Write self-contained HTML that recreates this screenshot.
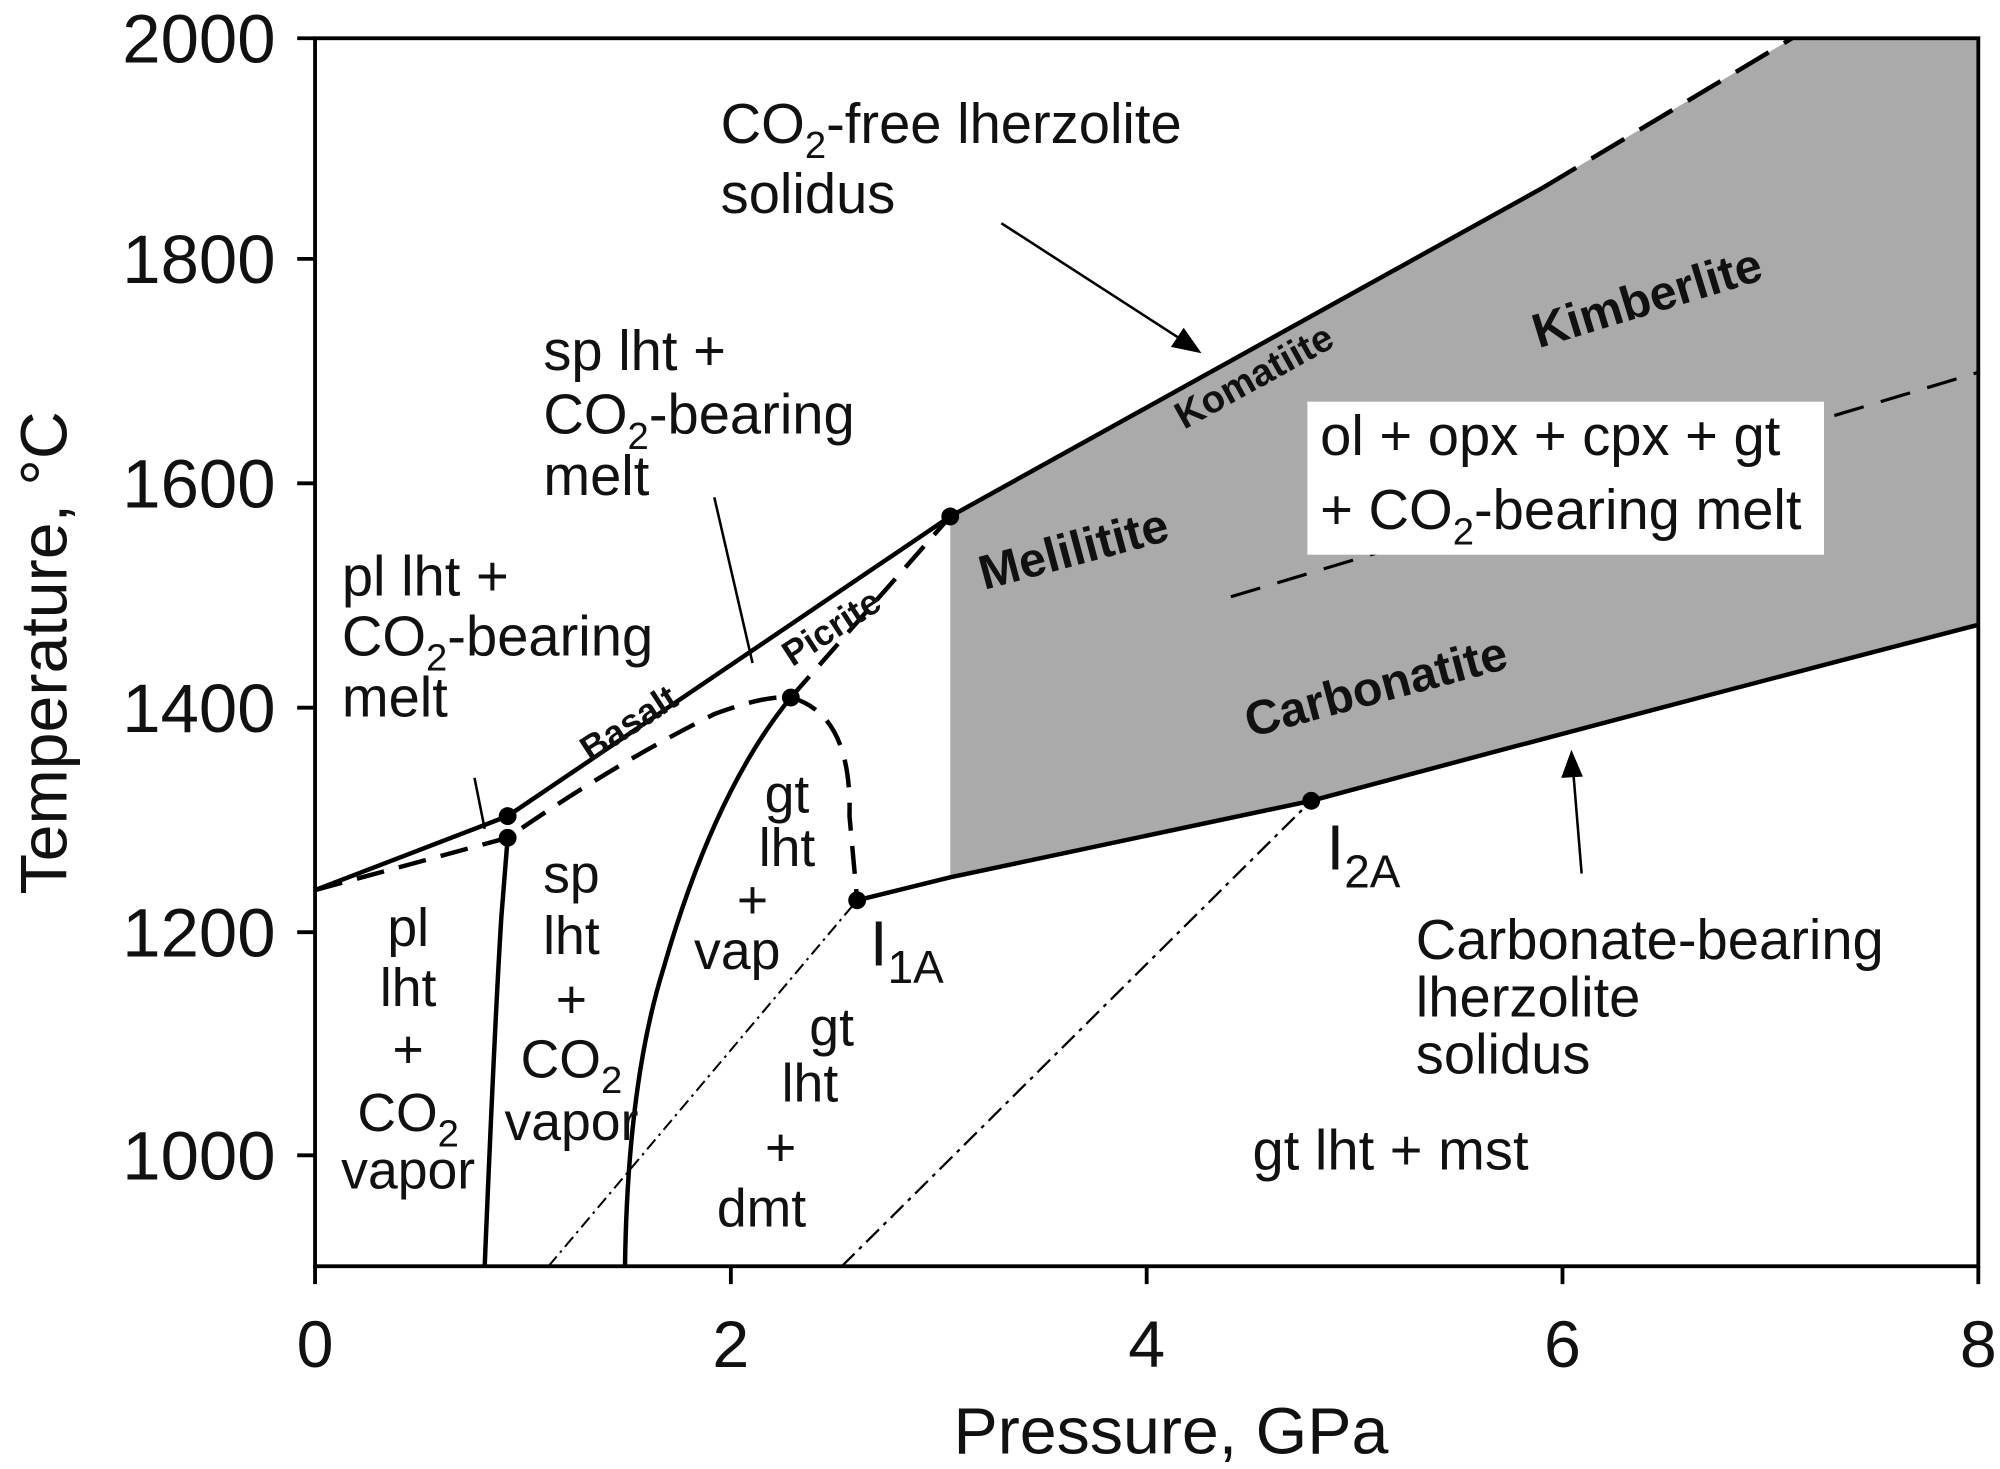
<!DOCTYPE html>
<html><head><style>html,body{margin:0;padding:0;background:#fff}svg{display:block}</style></head>
<body>
<svg width="2000" height="1469" viewBox="0 0 1568 1152" preserveAspectRatio="none" xmlns="http://www.w3.org/2000/svg" font-family="Liberation Sans, Arial, sans-serif">
<polygon points="745,405 1230,135 1405,30 1551,30 1551,490 1028,628 745,688" fill="#aaaaaa"/>
<path d="M965,468 L1551,292" stroke="#000" stroke-width="2.5" fill="none" stroke-dasharray="24,14"/>
<rect x="1025" y="315" width="405" height="120" fill="#fff"/>
<g stroke="#000" fill="none" stroke-width="3.5">
<path d="M247,698 L398,640 L745,405 L1210,147"/>
<path d="M1210,147 L1405,30" stroke-dasharray="30,14"/>
<path d="M672,706 L745,688 Q900,655 1028,628 Q1300,555 1551,490"/>
<path d="M247,698 L398,657 Q480,600 560,560 Q600,545 620,547" stroke-dasharray="22,12"/>
<path d="M620,547 L745,405" stroke-dasharray="22,12"/>
<path d="M620,547 Q668,560 666,640 L672,706" stroke-dasharray="22,12"/>
<path d="M490,993 Q492,850 520,760 Q560,620 620,547"/>
<path d="M380,993 Q388,800 393,720 L398,657"/>
</g>
<path d="M430,993 L672,706" stroke="#000" stroke-width="1.6" fill="none" stroke-dasharray="10,4,2,4"/>
<path d="M660,993 L1028,628" stroke="#000" stroke-width="1.8" fill="none" stroke-dasharray="14,5,3,5"/>
<g stroke="#000" stroke-width="2" fill="none">
<path d="M560,390 L590,520"/><path d="M372,610 L380,650"/>
<path d="M785,175 L932,270"/><path d="M1240,685 L1233,600"/>
</g>
<polygon points="942,277 918,272 928,257" fill="#000"/>
<polygon points="1232,588 1224,610 1241,609" fill="#000"/>
<g fill="#000"><circle cx="398" cy="640" r="7"/><circle cx="398" cy="657" r="7"/><circle cx="745" cy="405" r="7"/><circle cx="620" cy="547" r="7"/><circle cx="672" cy="706" r="7"/><circle cx="1028" cy="628" r="7"/></g>
<rect x="247" y="30" width="1304" height="963" fill="none" stroke="#000" stroke-width="3"/>
<g stroke="#000" stroke-width="3">
<path d="M233,30H247M233,203H247M233,379H247M233,555H247M233,731H247M233,906H247"/>
<path d="M247,993V1007M573,993V1007M899,993V1007M1225,993V1007M1551,993V1007"/>
</g>
<g font-size="54" text-anchor="end" fill="#111">
<text x="216" y="49">2000</text><text x="216" y="222">1800</text><text x="216" y="398">1600</text><text x="216" y="574">1400</text><text x="216" y="750">1200</text><text x="216" y="925">1000</text>
</g>
<g font-size="52" text-anchor="middle" fill="#111">
<text x="247" y="1072">0</text><text x="573" y="1072">2</text><text x="899" y="1072">4</text><text x="1225" y="1072">6</text><text x="1551" y="1072">8</text>
<text x="918" y="1140">Pressure, GPa</text>
<text transform="translate(52,512) rotate(-90)">Temperature, °C</text>
</g>
<g font-size="44" fill="#111">
<text x="565" y="112">CO<tspan font-size="30" dy="12">2</tspan><tspan dy="-12">-free lherzolite</tspan></text>
<text x="565" y="167">solidus</text>
<text x="426" y="290">sp lht +</text>
<text x="426" y="340">CO<tspan font-size="30" dy="12">2</tspan><tspan dy="-12">-bearing</tspan></text>
<text x="426" y="388">melt</text>
<text x="268" y="467">pl lht +</text>
<text x="268" y="514">CO<tspan font-size="30" dy="12">2</tspan><tspan dy="-12">-bearing</tspan></text>
<text x="268" y="562">melt</text>
<text x="1035" y="357">ol + opx + cpx + gt</text>
<text x="1035" y="415">+ CO<tspan font-size="30" dy="12">2</tspan><tspan dy="-12">-bearing melt</tspan></text>
<text x="1110" y="752">Carbonate-bearing</text>
<text x="1110" y="797">lherzolite</text>
<text x="1110" y="842">solidus</text>
<text x="982" y="917">gt lht + mst</text>
<text x="682" y="757" font-size="50">I<tspan font-size="36" dy="14">1A</tspan></text>
<text x="1040" y="682" font-size="50">I<tspan font-size="36" dy="14">2A</tspan></text>
</g>
<g font-size="42" fill="#111" text-anchor="middle">
<text x="320" y="742">pl</text><text x="320" y="789">lht</text><text x="320" y="837">+</text><text x="320" y="887">CO<tspan font-size="30" dy="12">2</tspan></text><text x="320" y="932">vapor</text>
<text x="448" y="700">sp</text><text x="448" y="748">lht</text><text x="448" y="798">+</text><text x="448" y="845">CO<tspan font-size="30" dy="12">2</tspan></text><text x="448" y="894">vapor</text>
<text x="617" y="637">gt</text><text x="617" y="679">lht</text><text x="590" y="720">+</text><text x="578" y="760">vap</text>
<text x="652" y="820">gt</text><text x="635" y="864">lht</text><text x="612" y="914">+</text><text x="597" y="962">dmt</text>
</g>
<g font-size="38" font-weight="bold" fill="#111" text-anchor="middle">
<text transform="translate(845,443) rotate(-15)">Melilitite</text>
<text transform="translate(1295,246) rotate(-17)">Kimberlite</text>
<text transform="translate(1082,551) rotate(-15)">Carbonatite</text>
<text font-size="30" transform="translate(988,304) rotate(-29)">Komatiite</text>
<text font-size="28" transform="translate(657,500) rotate(-33)">Picrite</text>
<text font-size="28" transform="translate(498,575) rotate(-33)">Basalt</text>
</g>
</svg>
</body></html>
